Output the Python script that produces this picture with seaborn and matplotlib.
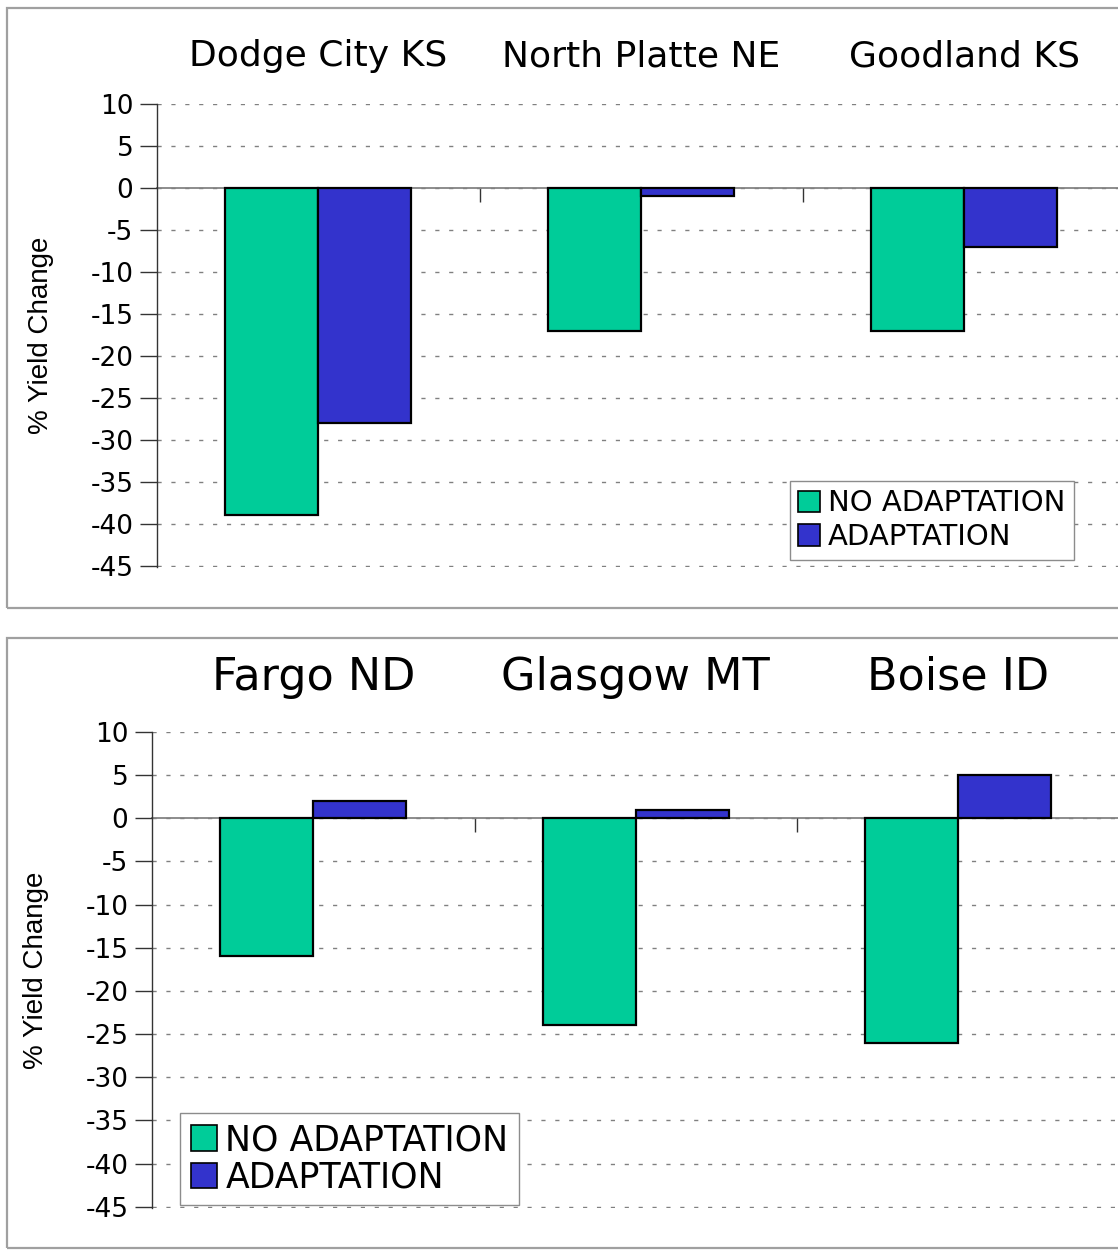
import matplotlib.pyplot as plt
import matplotlib.patches as mpatches
import pandas as pd
import seaborn as sns

# ---------------------------------------------------------------------------
# Data
# ---------------------------------------------------------------------------
SCENARIOS = ["NO ADAPTATION", "ADAPTATION"]
COLORS = ["#00CC99", "#3333CC"]

SITES_TOP = ["Dodge City KS", "North Platte NE", "Goodland KS"]
NO_ADAPT_TOP = [-39, -17, -17]
ADAPT_TOP = [-28, -1, -7]

SITES_BOTTOM = ["Fargo ND", "Glasgow MT", "Boise ID"]
NO_ADAPT_BOTTOM = [-16, -24, -26]
ADAPT_BOTTOM = [2, 1, 5]

Y_TICKS = list(range(-45, 11, 5))


def make_frame(sites, no_adapt, adapt):
    return pd.DataFrame({
        "site": sites * 2,
        "scenario": [SCENARIOS[0]] * len(sites) + [SCENARIOS[1]] * len(sites),
        "change": no_adapt + adapt,
    })


sns.set_style("white")
plt.rcParams["font.family"] = ["DejaVu Sans"]
plt.rcParams["axes.unicode_minus"] = False
for key in ["text.color", "axes.labelcolor", "xtick.labelcolor", "ytick.labelcolor"]:
    plt.rcParams[key] = "black"

fig = plt.figure(figsize=(11.18, 12.56), dpi=100)

# panel frames
for y0, h in [(0.516, 0.4776), (0.0064, 0.4856)]:
    fig.patches.append(mpatches.Rectangle(
        (0.0063, y0), 1.2, h, transform=fig.transFigure,
        fill=False, edgecolor="#a0a0a0", lw=1.6))


def draw_panel(rect, df, sites, title_size, title_pad, legend_anchor,
               legend_size, legend_spacing):
    ax = fig.add_axes(rect)
    sns.barplot(data=df, x="site", y="change", hue="scenario",
                order=sites, hue_order=SCENARIOS, palette=COLORS,
                width=0.576, edgecolor="black", linewidth=1.6,
                saturation=1, errorbar=None, ax=ax)
    ax.set_xlim(-0.5, 2.5)
    ax.set_ylim(-45.15, 10)
    ax.set_yticks(Y_TICKS)
    ax.yaxis.grid(True, color="#808080", lw=1.0, linestyle=(0, (3, 7)))
    ax.set_axisbelow(True)

    for s in ["top", "right"]:
        ax.spines[s].set_visible(False)
    ax.spines["left"].set_color("#333333")
    ax.spines["left"].set_linewidth(1.0)
    ax.spines["bottom"].set_position(("data", 0))
    ax.spines["bottom"].set_color("#8c8c8c")
    ax.spines["bottom"].set_linewidth(1.4)
    ax.spines["bottom"].set_zorder(0.5)

    # category labels on top, boundary ticks on the zero line
    ax.set_xticks(range(len(sites)), sites)
    ax.set_xticks([0.5, 1.5], minor=True)
    ax.tick_params(axis="x", which="major", length=0, labeltop=True,
                   labelbottom=False, labelsize=title_size, pad=title_pad)
    ax.tick_params(axis="x", which="minor", bottom=True, length=10,
                   direction="out", color="#333333", width=1)
    ax.tick_params(axis="y", left=True, length=12, direction="out",
                   color="#333333", width=1, labelsize=19, pad=5)
    ax.set_xlabel("")
    ax.set_ylabel("% Yield Change", fontsize=20, family="Liberation Sans",
                  labelpad=26)

    handles = [mpatches.Patch(facecolor=c, edgecolor="black", lw=1.2)
               for c in COLORS]
    ax.legend(handles, SCENARIOS, loc="lower left",
              bbox_to_anchor=legend_anchor, borderaxespad=0,
              fontsize=legend_size, frameon=True, fancybox=False,
              edgecolor="#8c8c8c", framealpha=1, handlelength=0.75,
              handleheight=0.75, handletextpad=0.25,
              labelspacing=legend_spacing, borderpad=0.3)
    return ax


draw_panel([0.1404, 0.5486, 0.8667, 0.3686],
           make_frame(SITES_TOP, NO_ADAPT_TOP, ADAPT_TOP),
           SITES_TOP, 26, 22, (0.653, 0.015), 21, 0.2)

draw_panel([0.1360, 0.0382, 0.8654, 0.3790],
           make_frame(SITES_BOTTOM, NO_ADAPT_BOTTOM, ADAPT_BOTTOM),
           SITES_BOTTOM, 32, 24, (0.029, 0.006), 25, 0.1)

fig.savefig("out.png", dpi=100)
